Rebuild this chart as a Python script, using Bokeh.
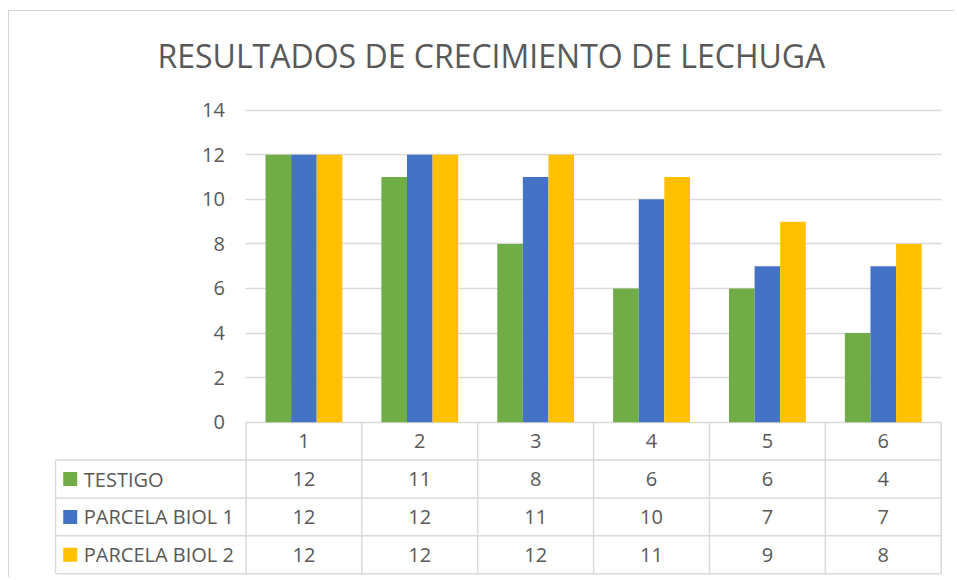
from bokeh.plotting import figure
from bokeh.models import Range1d, FixedTicker, ColumnDataSource, Grid
from bokeh.core.properties import value
from bokeh.embed import file_html
from bokeh.resources import INLINE

# ---------------- data ----------------
categories = ["1", "2", "3", "4", "5", "6"]
series_names = ["TESTIGO", "PARCELA BIOL 1", "PARCELA BIOL 2"]
testigo = [12, 11, 8, 6, 6, 4]
parcela_biol_1 = [12, 12, 11, 10, 7, 7]
parcela_biol_2 = [12, 12, 12, 11, 9, 8]
y_ticks = [0, 2, 4, 6, 8, 10, 12, 14]
title_text = "RESULTADOS DE CRECIMIENTO DE LECHUGA"

# ---------------- style / layout ----------------
colors = ["#70AD47", "#4472C4", "#FFC000"]
TXT = "#595959"
GRID = "#D9D9D9"
FONT = "Open Sans"
W, H = 946, 567
X_START, X_END = -1.1527, 6.5112
Y_START, Y_END = -6.924, 14.66
LEFT_EDGE = -1.144          # left border of the data table
ROW_H = 1.70                # table row height (data units)
BAR_W = 0.221

series = [testigo, parcela_biol_1, parcela_biol_2]
xs = [i + 1 for i in range(len(categories))]

p = figure(width=W, height=H, output_backend="svg", toolbar_location=None,
           x_range=Range1d(X_START, X_END), y_range=Range1d(Y_START, Y_END),
           x_axis_location=None, min_border_left=45, min_border_right=13,
           min_border_top=84, min_border_bottom=2)
p.outline_line_color = None
p.background_fill_color = "white"
p.border_fill_color = "white"
# outer chart-area border (chart area frame of the original)
p.styles = {"margin-left": "8px", "margin-top": "10px",
            "border-left": "1px solid #D4D4D4", "border-top": "1px solid #D4D4D4"}

# title
p.title.text = title_text
p.title.text_font = FONT
p.title.text_font_size = "32px"
p.title.text_font_style = "normal"
p.title.text_color = TXT
p.title.align = "left"
p.title.offset = 103
p.title.standoff = 38

# y axis (at left edge of plot area)
ax = p.yaxis[0]
ax.fixed_location = 0.5
ax.ticker = FixedTicker(ticks=y_ticks)
ax.axis_line_color = None
ax.major_tick_line_color = None
ax.minor_tick_line_color = None
ax.major_tick_in = 0
ax.major_tick_out = 0
ax.major_label_standoff = 21
ax.major_label_text_font = FONT
ax.major_label_text_font_size = "20px"
ax.major_label_text_color = TXT

# grid lines only over plot area
p.xgrid.visible = False
yg = p.ygrid[0]
yg.ticker = FixedTicker(ticks=y_ticks)
yg.grid_line_color = GRID
yg.grid_line_width = 1.5
if "cross_bounds" in Grid.properties():
    yg.cross_bounds = (0.5, 6.5)
else:
    yg.visible = False
    p.segment(x0=[0.5] * len(y_ticks), x1=[6.5] * len(y_ticks), y0=y_ticks, y1=y_ticks,
              line_color=GRID, line_width=1.5)

# bars
offsets = [-BAR_W, 0.0, BAR_W]
for vals, off, col, name in zip(series, offsets, colors, series_names):
    src = ColumnDataSource(dict(x=[x + off for x in xs], top=vals))
    p.vbar(x="x", top="top", bottom=0, width=BAR_W, source=src,
           fill_color=col, line_color=None)

# ---------------- data table ----------------
n = len(categories)
hy = [-(k + 1) * ROW_H for k in range(len(series) + 1)]
p.segment(x0=[LEFT_EDGE] * len(hy), x1=[n + 0.5] * len(hy), y0=hy, y1=hy,
          line_color=GRID, line_width=1.5)
vx = [i + 0.5 for i in range(n + 1)]
bottom = -(len(series) + 1) * ROW_H
p.segment(x0=vx, x1=vx, y0=[0] * len(vx), y1=[bottom] * len(vx),
          line_color=GRID, line_width=1.5)
p.segment(x0=[LEFT_EDGE], x1=[LEFT_EDGE], y0=[-ROW_H], y1=[bottom],
          line_color=GRID, line_width=1.5)

p.text(x=xs, y=[-0.5 * ROW_H] * n, text=categories, text_align="center",
       text_baseline="middle", text_font=value(FONT), text_font_size="20px",
       text_color=TXT)

for r, (vals, col, name) in enumerate(zip(series, colors, series_names)):
    yc = -(r + 1.5) * ROW_H
    p.text(x=xs, y=[yc] * n, text=[str(v) for v in vals], text_align="center",
           text_baseline="middle", text_font=value(FONT), text_font_size="20px",
           text_color=TXT)
    p.scatter(x=[-1.017], y=[yc], marker="square", size=14, fill_color=col,
              line_color=None)
    p.text(x=[-0.90], y=[yc], text=[name], text_align="left",
           text_baseline="middle", text_font=value(FONT), text_font_size="20px",
           text_color=TXT)

open("out.html", "w").write(file_html(p, INLINE))
